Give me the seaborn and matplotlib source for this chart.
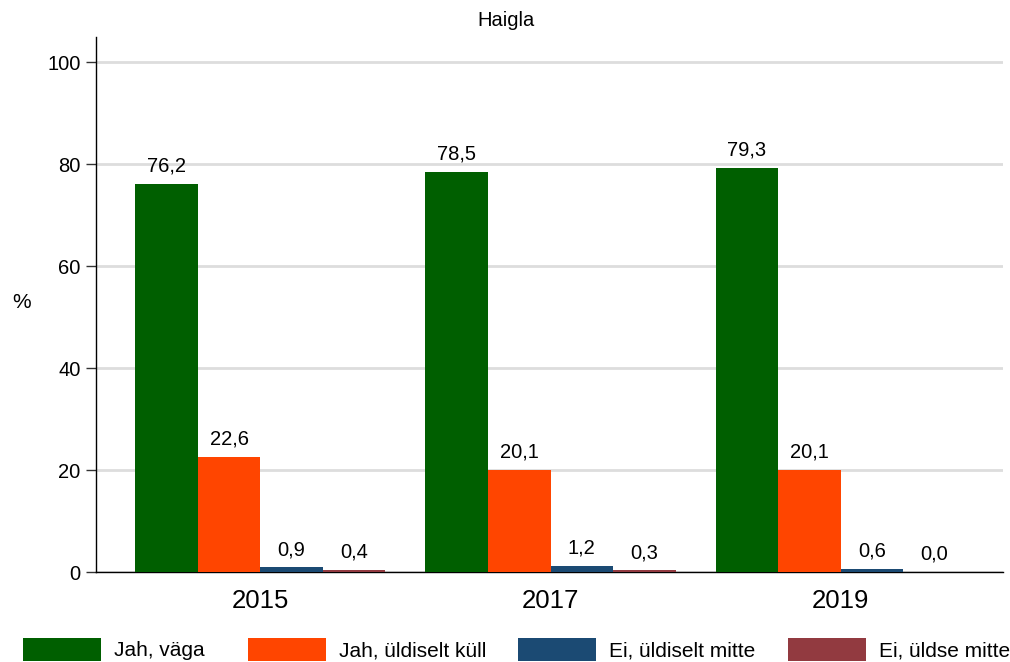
import matplotlib
matplotlib.use("Agg")
import matplotlib.pyplot as plt
import seaborn as sns
import pandas as pd
from matplotlib.patches import Patch

years = ["2015", "2017", "2019"]
categories = ["Jah, väga", "Jah, üldiselt küll", "Ei, üldiselt mitte", "Ei, üldse mitte"]
jah_vaga = [76.2, 78.5, 79.3]
jah_kull = [22.6, 20.1, 20.1]
ei_mitte = [0.9, 1.2, 0.6]
ei_uldse = [0.4, 0.3, 0.0]
colors = ["#005F00", "#FF4500", "#1B4A73", "#923A40"]
subtitle = "Haigla"
ylabel = "%"
yticks = [0, 20, 40, 60, 80, 100]
legend_x = [23, 248, 518, 788]

series = [jah_vaga, jah_kull, ei_mitte, ei_uldse]
rows = []
for cat, vals in zip(categories, series):
    for y, v in zip(years, vals):
        rows.append({"Aasta": y, "Vastus": cat, "Väärtus": v})
df = pd.DataFrame(rows)

sns.set_style("white")
plt.rcParams["font.family"] = ["Liberation Sans", "DejaVu Sans"]
plt.rcParams["text.color"] = "black"
plt.rcParams["xtick.color"] = "black"
plt.rcParams["ytick.color"] = "black"
plt.rcParams["axes.labelcolor"] = "black"

fig = plt.figure(figsize=(10.1, 6.62), dpi=100)
ax = fig.add_axes([96 / 1010, 1 - 572 / 662, (1003 - 96) / 1010, (572 - 37) / 662])

sns.barplot(data=df, x="Aasta", y="Väärtus", hue="Vastus", hue_order=categories,
            order=years, palette=colors, width=0.862, saturation=1, ax=ax,
            errorbar=None, legend=False, zorder=3, linewidth=0, edgecolor="none")

for cont in ax.containers:
    ax.bar_label(cont, labels=[f"{b.get_height():.1f}".replace(".", ",") for b in cont],
                 padding=6, fontsize=14.5, color="black")

ax.set_ylim(0, 105)
ax.set_xlim(-0.566, 2.559)
ax.set_yticks(yticks)
ax.yaxis.grid(True, color="#DDDDDD", linewidth=2, zorder=0)
ax.xaxis.grid(False)
ax.set_axisbelow(True)
for s in ["top", "right"]:
    ax.spines[s].set_visible(False)
for s in ["left", "bottom"]:
    ax.spines[s].set_color("black")
    ax.spines[s].set_linewidth(1)
ax.tick_params(axis="y", length=7, width=1, color="#333333", labelsize=14.5, left=True, pad=4,
               labelcolor="black")
ax.tick_params(axis="x", length=0, labelsize=18.5, pad=12, labelcolor="black")
ax.set_xlabel("")
ax.set_ylabel(ylabel, rotation=0, fontsize=15, labelpad=0, va="center", ha="center")
ax.yaxis.set_label_coords(-0.082, 0.503)

fig.text(0.501, 1 - 20 / 662, subtitle, ha="center", va="center", fontsize=14.5, color="black")

for c, lab, x in zip(colors, categories, legend_x):
    fig.legend([Patch(facecolor=c, edgecolor="none")], [lab], loc="lower left",
               bbox_to_anchor=(x / 1010, 0.002), frameon=False, fontsize=15,
               handlelength=3.75, handleheight=1.3, handletextpad=0.6,
               borderpad=0.0, borderaxespad=0, labelcolor="black")

fig.savefig("out.png", dpi=100)
